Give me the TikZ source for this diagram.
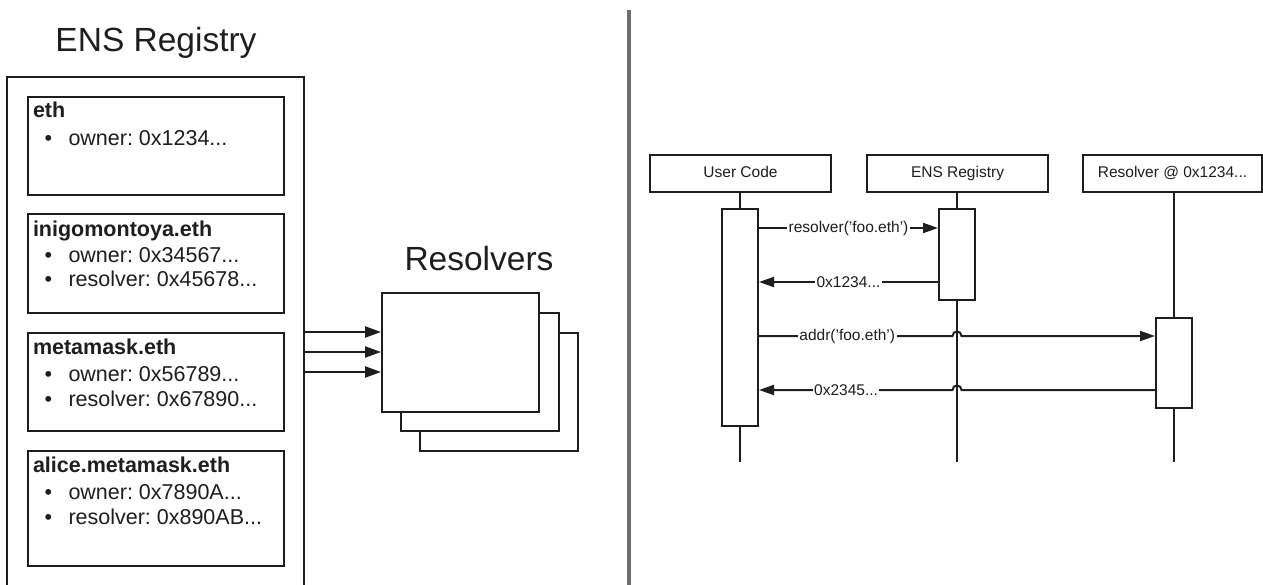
\documentclass[tikz,border=0pt]{standalone}
\usepackage{fontspec}
\setmainfont{Liberation Sans}
\usetikzlibrary{arrows.meta,calc}
\definecolor{ink}{HTML}{1E1E1E}
\definecolor{divgray}{HTML}{6E6E6E}
\frenchspacing
\begin{document}
\begin{tikzpicture}[x=1pt,y=-1pt,
  line width=2pt, draw=ink,
  >={Triangle[length=16pt,width=11pt]},
  bigtitle/.style={inner sep=0pt, text=ink, font=\fontsize{33.5}{38}\selectfont},
  rectbox/.style={draw=ink, fill=white, line width=2pt, inner sep=0pt, anchor=north west},
  entrytitle/.style={anchor=base west, inner sep=0pt, text=ink, font=\fontsize{21.5}{25}\selectfont\bfseries},
  entrytext/.style={anchor=base west, inner sep=0pt, text=ink, font=\fontsize{21.5}{25}\selectfont},
  bul/.style={anchor=base, inner sep=0pt, text=ink, font=\fontsize{21.5}{25}\selectfont},
  head/.style={draw=ink, fill=white, line width=2pt, minimum width=181pt, minimum height=37pt, inner sep=0pt, text height=11.5pt, text depth=3pt, text=ink, font=\fontsize{15.5}{18}\selectfont},
  act/.style={draw=ink, fill=white, line width=2pt, minimum width=36pt, inner sep=0pt},
  msg/.style={fill=white, inner sep=1.5pt, text=ink, font=\fontsize{15.5}{18}\selectfont},
  msgline/.style={draw=ink, line width=2pt, -{Triangle[length=15pt,width=10pt]}}
]
\useasboundingbox (0,0) rectangle (1263,585);

% ---------- left: ENS registry ----------
\node[bigtitle] (regtitle) at (156,43) {ENS Registry};
\node[draw=none, inner sep=0pt, minimum width=295pt, minimum height=523pt, anchor=north west] (reg) at (7,77) {};
\draw[ink, line width=2pt] (reg.south west) -- (reg.north west) -- (reg.north east) -- (reg.south east);

% eth
\node[rectbox, minimum width=256pt, minimum height=98pt] (b1) at (27,96) {};
\node[entrytitle] (b1t) at (32,118) {eth};
\node[bul] (b1b1) at (48.5,146) {•};
\node[entrytext] (b1o) at (67.5,146) {owner: 0x1234...};

% inigomontoya
\node[rectbox, minimum width=256pt, minimum height=99pt] (b2) at (27,213) {};
\node[entrytitle] (b2t) at (32,236.5) {inigomontoya.eth};
\node[bul] (b2b1) at (48.5,262) {•};
\node[entrytext] (b2o) at (67.5,262) {owner: 0x34567...};
\node[bul] (b2b2) at (48.5,287) {•};
\node[entrytext] (b2r) at (67.5,287) {resolver: 0x45678...};

% metamask
\node[rectbox, minimum width=256pt, minimum height=98pt] (b3) at (27,332) {};
\node[entrytitle] (b3t) at (32,354) {metamask.eth};
\node[bul] (b3b1) at (48.5,381) {•};
\node[entrytext] (b3o) at (67.5,381) {owner: 0x56789...};
\node[bul] (b3b2) at (48.5,406.5) {•};
\node[entrytext] (b3r) at (67.5,406.5) {resolver: 0x67890...};

% alice
\node[rectbox, minimum width=256pt, minimum height=115pt] (b4) at (27,450) {};
\node[entrytitle] (b4t) at (32,472) {alice.metamask.eth};
\node[bul] (b4b1) at (48.5,499) {•};
\node[entrytext] (b4o) at (67.5,499) {owner: 0x7890A...};
\node[bul] (b4b2) at (48.5,524.5) {•};
\node[entrytext] (b4r) at (67.5,524.5) {resolver: 0x890AB...};

% ---------- resolvers ----------
\node[bigtitle] (restitle) at (479,259) {Resolvers};
\node[rectbox, minimum width=158pt, minimum height=118pt] (res3) at (419,332) {};
\node[rectbox, minimum width=158pt, minimum height=118pt] (res2) at (400,312) {};
\node[rectbox, minimum width=157pt, minimum height=119pt] (res1) at (381,292) {};

\draw[->, ink, line width=2pt] (reg.east |- {(0,332)}) -- (res1.west |- {(0,332)});
\draw[->, ink, line width=2pt] (reg.east |- {(0,352)}) -- (res1.west |- {(0,352)});
\draw[->, ink, line width=2pt] (reg.east |- {(0,372)}) -- (res1.west |- {(0,372)});

% ---------- divider ----------
\coordinate (divtop) at (629,10);
\coordinate (divbot) at (629,585);
\draw[divgray, line width=3.5pt] (divtop) -- (divbot);

% ---------- sequence diagram ----------
\node[head] (hu) at (740.5,173.5) {User Code};
\node[head] (he) at (957.5,173.5) {ENS Registry};
\node[head, minimum width=179pt] (hr) at (1172.5,173.5) {Resolver @ 0x1234...};

\coordinate (lu) at (740,462);
\coordinate (le) at (957,462);
\coordinate (lr) at (1174,462);
\draw[ink, line width=2pt] (hu.south -| lu) -- (lu);
\draw[ink, line width=2pt] (he.south -| le) -- (le);
\draw[ink, line width=2pt] (hr.south -| lr) -- (lr);

\node[act, minimum height=217pt] (ua) at (740,317.5) {};
\node[act, minimum height=91pt] (ea) at (957,254.5) {};
\node[act, minimum height=90pt] (ra) at (1174,363) {};

% message 1
\draw[msgline] (ua.east |- {(0,228)}) -- node[msg, pos=0.5] {resolver('foo.eth')} (ea.west |- {(0,228)});
% message 2
\draw[msgline] (ea.west |- {(0,282)}) -- node[msg, pos=0.5] {0x1234...} (ua.east |- {(0,282)});
% message 3 (hops over ENS lifeline)
\draw[msgline] (ua.east |- {(0,336)}) -- node[msg, pos=0.456] {addr('foo.eth')} ($(le |- {(0,336)}) + (-4.5,0)$)
  .. controls ($(le |- {(0,336)}) + (-4.5,-6)$) and ($(le |- {(0,336)}) + (4.5,-6)$) .. ($(le |- {(0,336)}) + (4.5,0)$)
  -- (ra.west |- {(0,336)});
% message 4 (hops over ENS lifeline)
\draw[msgline] (ra.west |- {(0,390)}) -- ($(le |- {(0,390)}) + (4.5,0)$)
  .. controls ($(le |- {(0,390)}) + (4.5,-6)$) and ($(le |- {(0,390)}) + (-4.5,-6)$) .. ($(le |- {(0,390)}) + (-4.5,0)$)
  -- node[msg, pos=0.55] {0x2345...} (ua.east |- {(0,390)});
\end{tikzpicture}
\end{document}
